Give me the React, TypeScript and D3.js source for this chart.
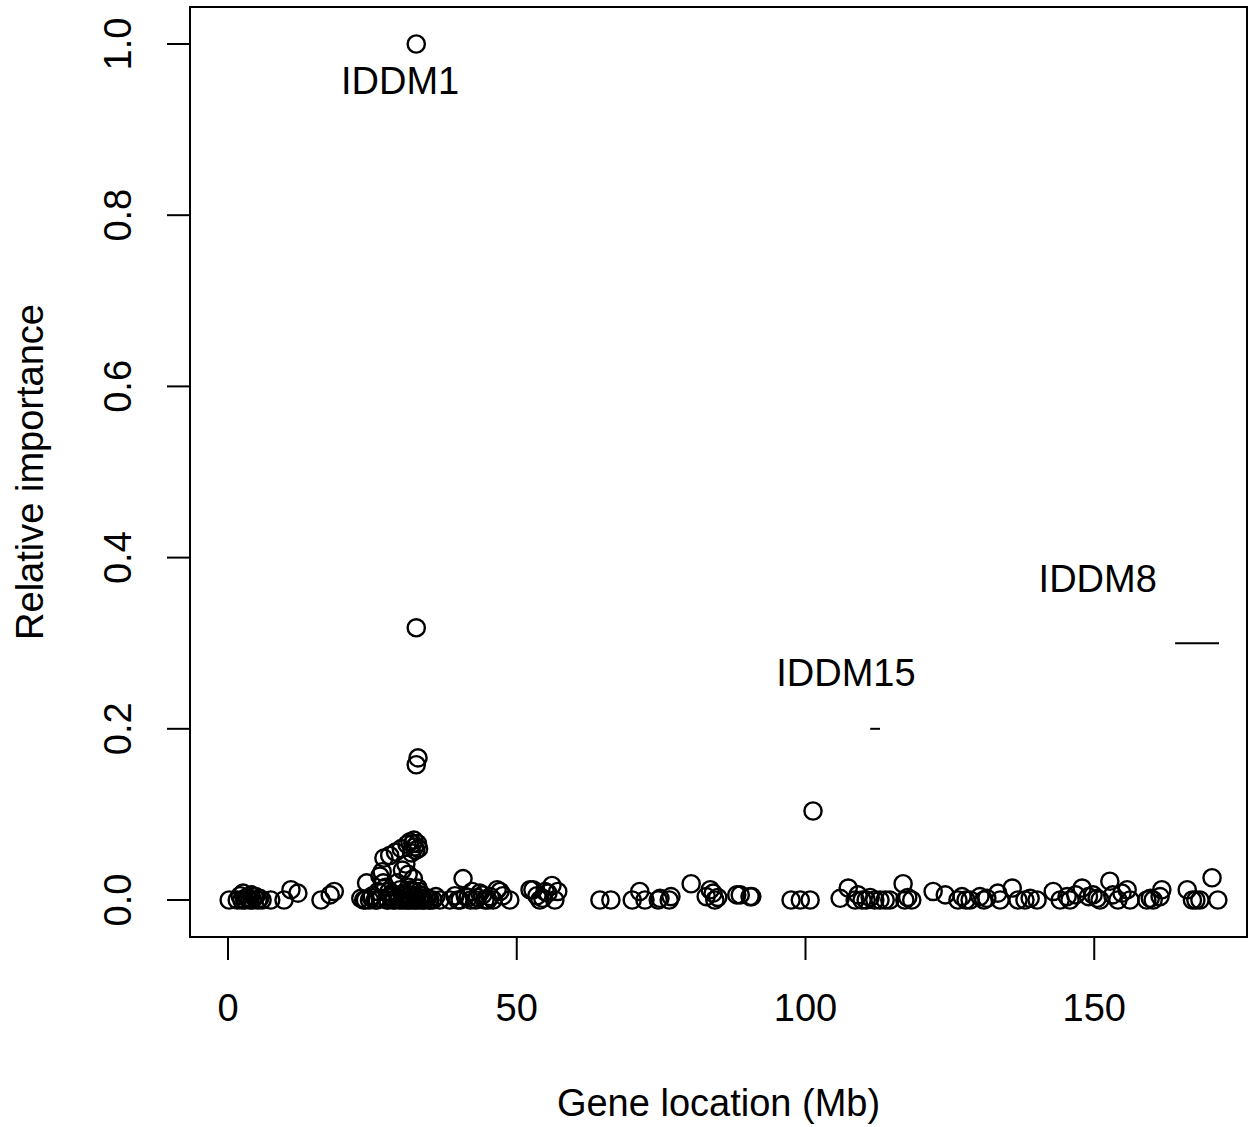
import React from "react";
import * as d3 from "d3";

// Gene location (Mb) and relative importance of each gene
const locationMb: number[] = [
  0.2, 1.6, 2.1, 2.4, 2.6, 2.9, 3.2, 3.5, 3.8, 4.0, 4.2, 4.5, 4.8, 5.2, 5.5, 5.9, 7.4, 9.7, 10.9, 12.1, 16.1, 17.7, 18.4,
  23.0, 23.5, 24.0, 24.5, 25.0, 25.5, 26.0, 26.3, 26.7, 27.0, 27.3, 27.7, 28.0, 28.3, 28.6, 29.0, 29.3, 29.6,
  30.0, 30.2, 30.4, 30.6, 30.8, 31.0, 31.2, 31.4, 31.5, 31.7, 31.8, 32.0, 32.1, 32.2, 32.3, 32.4, 32.5,
  32.6, 32.6, 32.6, 32.8, 32.9, 33.0, 33.1, 33.3, 33.6, 34.0, 34.5, 35.0, 35.5, 36.0, 36.7,
  23.8, 24.8, 25.8, 26.5, 27.5, 28.1, 28.8, 29.5, 30.1, 30.7, 31.1, 31.6, 31.9, 32.3, 32.7, 33.2, 33.8, 34.3, 34.8,
  28.4, 29.8, 30.5, 31.3, 32.0, 32.9, 33.4, 26.9, 27.9,
  38.4, 39.3, 40.2, 40.7, 41.6, 42.3, 42.9, 43.6, 44.5, 45.4, 45.9, 46.6, 47.1, 47.6, 48.8,
  39.8, 41.1, 42.0, 43.2, 44.1, 45.0,
  52.3, 52.8, 53.5, 54.0, 54.5, 54.9, 55.4, 56.1, 56.6, 57.1,
  64.4, 66.3, 70.0, 71.3, 72.2, 74.5, 74.8, 76.4, 76.7, 80.2, 82.8, 83.5, 84.0, 84.3, 84.8, 88.1, 88.7, 90.4, 90.7,
  97.5, 99.1, 100.8, 101.3, 106.0, 107.4, 108.6, 109.1, 109.8, 110.5, 111.2, 112.0, 112.9, 113.8, 114.6,
  116.9, 117.2, 117.7, 118.4,
  122.1, 124.2, 126.4, 127.1, 127.8, 128.5, 130.2, 130.9, 131.4, 133.3, 133.7, 135.8, 136.8, 138.0, 138.9, 140.1,
  142.9, 144.1, 145.3, 145.8, 146.8, 147.9, 149.0, 149.8, 150.5, 151.0, 152.7, 153.2, 154.1, 154.8, 155.7, 156.2,
  159.1, 159.7, 160.2, 161.4, 161.7, 166.1, 167.0, 167.6, 168.3, 170.4, 171.4,
];
const importance: number[] = [
  0, 0, 0.005, 0, 0.008, 0, 0.003, 0.002, 0, 0.006, 0, 0.004, 0.004, 0, 0.002, 0, 0, 0, 0.012, 0.008, 0, 0.006, 0.01,
  0.002, 0, 0.02, 0, 0.005, 0, 0.01, 0.028, 0.033, 0.049, 0.015, 0, 0.052, 0.005, 0, 0.056, 0.02, 0,
  0.06, 0.035, 0.008, 0, 0.042, 0.065, 0.03, 0, 0.068, 0.012, 0.055, 0.066, 0.025, 0.07, 0.062, 0, 0.058,
  1.0, 0.318, 0.158, 0.066, 0.166, 0.06, 0.01, 0, 0.005, 0, 0.002, 0, 0, 0.004, 0,
  0, 0.003, 0, 0.002, 0, 0.004, 0, 0.002, 0, 0.003, 0, 0.001, 0, 0.004, 0, 0.002, 0, 0.003, 0,
  0.008, 0.012, 0.006, 0.015, 0.01, 0.014, 0.006, 0.02, 0.01,
  0, 0.005, 0, 0.025, 0.003, 0.01, 0, 0.008, 0, 0.004, 0, 0.012, 0.01, 0.005, 0,
  0, 0.004, 0, 0.003, 0.006, 0,
  0.012, 0.012, 0.005, 0, 0.002, 0.01, 0.008, 0.017, 0, 0.01,
  0, 0, 0, 0.01, 0, 0, 0.002, 0, 0.004, 0.019, 0.004, 0.012, 0.008, 0, 0.003, 0.006, 0.006, 0.004, 0.004,
  0, 0, 0, 0.104, 0.002, 0.014, 0, 0.006, 0, 0, 0.003, 0, 0, 0, 0,
  0.019, 0, 0.003, 0,
  0.01, 0.006, 0, 0.004, 0, 0, 0.004, 0, 0.002, 0.008, 0, 0.014, 0, 0, 0.002, 0,
  0.01, 0, 0.004, 0, 0.006, 0.014, 0.004, 0.006, 0.002, 0, 0.022, 0.006, 0, 0.008, 0.012, 0,
  0, 0.002, 0, 0.004, 0.012, 0.012, 0, 0, 0, 0.026, 0,
];

const xTicks: number[] = [0, 50, 100, 150];
const yTicks: number[] = [0, 0.2, 0.4, 0.6, 0.8, 1.0];

const lociNames: string[] = ["IDDM1", "IDDM15", "IDDM8"];
const lociLabelX: number[] = [29.8, 107.0, 150.6];
const lociLabelY: number[] = [0.958, 0.266, 0.376];
// segments marking loci spans (start Mb, end Mb, level)
const segNames: string[] = ["IDDM15", "IDDM8"];
const segStart: number[] = [111.2, 164.0];
const segEnd: number[] = [112.9, 171.6];
const segLevel: number[] = [0.2, 0.3];

const W = 1257;
const H = 1127;
const left = 190;
const right = 1247;
const top = 7;
const bottom = 937;
const FONT = "'Liberation Sans', Arial, Helvetica, sans-serif";
const FS = 38;

export default function App() {
  const x = d3.scaleLinear().domain([-6.58, 176.45]).range([left, right]);
  const y = d3.scaleLinear().domain([-0.0432, 1.0432]).range([bottom, top]);

  return (
    <svg
      width={W}
      height={H}
      viewBox={`0 0 ${W} ${H}`}
      style={{ position: "absolute", left: 0, top: 0, background: "#fff" }}
    >
      <rect x={0} y={0} width={W} height={H} fill="#fff" />
      {/* plot box */}
      <rect x={left} y={top} width={right - left} height={bottom - top} fill="none" stroke="#000" strokeWidth={2} />

      {/* x axis */}
      {xTicks.map((t) => (
        <g key={"xt" + t}>
          <line x1={x(t)} x2={x(t)} y1={bottom} y2={bottom + 23} stroke="#000" strokeWidth={2} />
          <text x={x(t)} y={1021} textAnchor="middle" fontFamily={FONT} fontSize={FS} fill="#000">
            {t}
          </text>
        </g>
      ))}
      <text x={(left + right) / 2} y={1116} textAnchor="middle" fontFamily={FONT} fontSize={FS} fill="#000">
        Gene location (Mb)
      </text>

      {/* y axis */}
      {yTicks.map((t) => (
        <g key={"yt" + t}>
          <line x1={left} x2={left - 23} y1={y(t)} y2={y(t)} stroke="#000" strokeWidth={2} />
          <text
            transform={`translate(${131},${y(t)}) rotate(-90)`}
            textAnchor="middle"
            fontFamily={FONT}
            fontSize={FS}
            fill="#000"
          >
            {t.toFixed(1)}
          </text>
        </g>
      ))}
      <text
        transform={`translate(${43},${y(0.5)}) rotate(-90)`}
        textAnchor="middle"
        fontFamily={FONT}
        fontSize={FS}
        fill="#000"
      >
        Relative importance
      </text>

      {/* points */}
      {locationMb.map((m, i) => (
        <circle
          key={"p" + i}
          cx={x(m)}
          cy={y(importance[i])}
          r={8.6}
          fill="none"
          stroke="#000"
          strokeWidth={2.4}
        />
      ))}

      {/* loci labels */}
      {lociNames.map((n, i) => (
        <text
          key={n}
          x={x(lociLabelX[i])}
          y={y(lociLabelY[i])}
          dy="0.36em"
          textAnchor="middle"
          fontFamily={FONT}
          fontSize={FS}
          fill="#000"
        >
          {n}
        </text>
      ))}
      {segNames.map((n, i) => (
        <line
          key={"s" + n}
          x1={x(segStart[i])}
          x2={x(segEnd[i])}
          y1={y(segLevel[i])}
          y2={y(segLevel[i])}
          stroke="#000"
          strokeWidth={2}
        />
      ))}
    </svg>
  );
}
